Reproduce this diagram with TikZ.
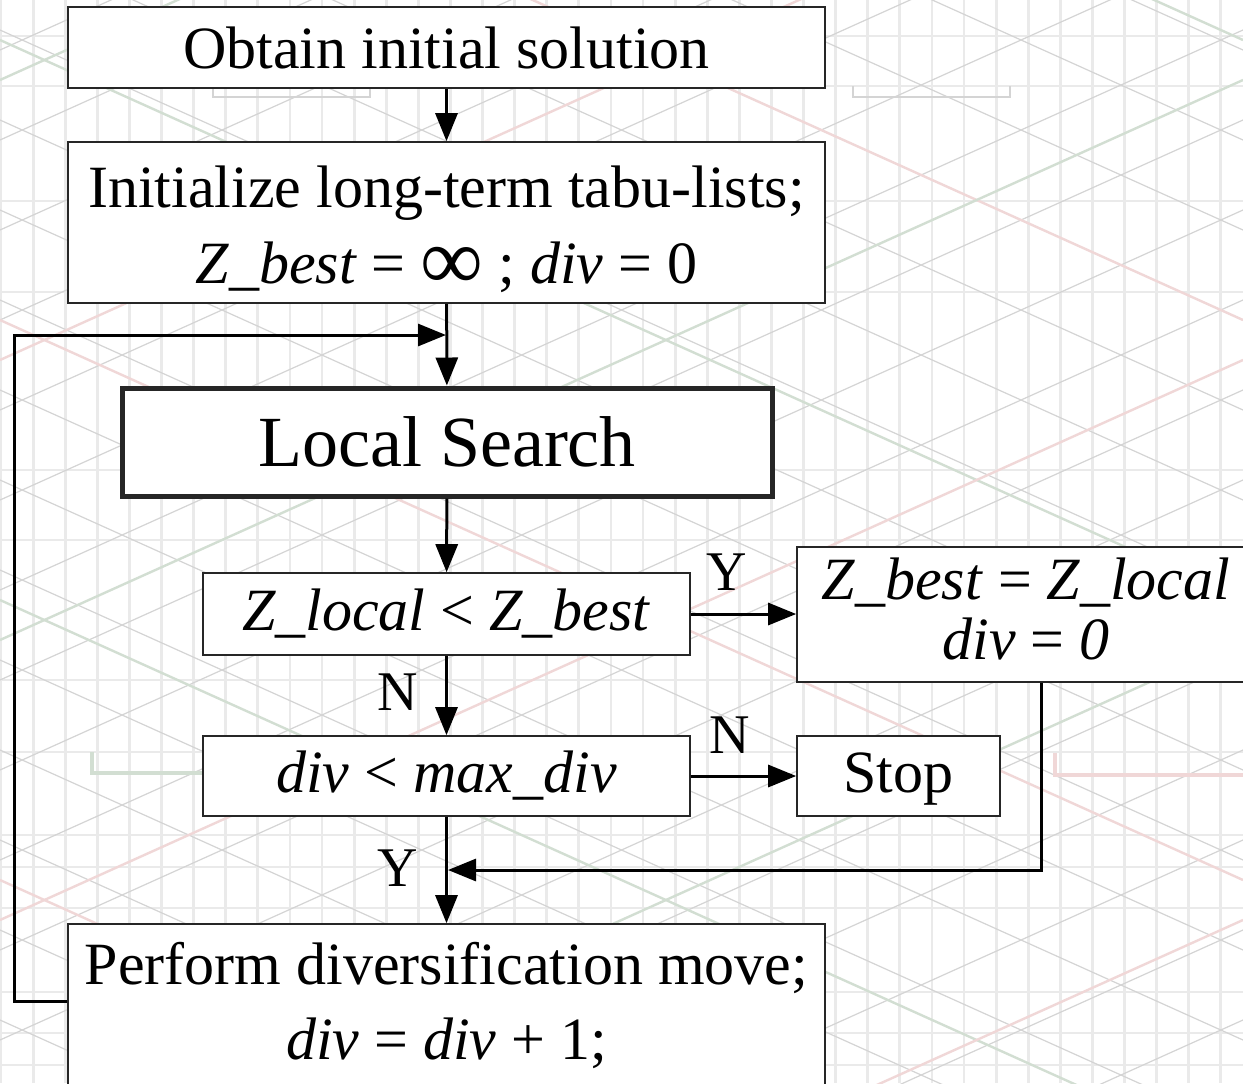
\documentclass[tikz,border=0pt]{standalone}
\usepackage{fontspec}
\setmainfont{Liberation Serif}
\usetikzlibrary{arrows.meta}
\definecolor{bggreen}{RGB}{210,222,210}
\definecolor{bgpink}{RGB}{240,215,215}
\definecolor{bggrid}{RGB}{234,234,234}
\definecolor{bgline}{RGB}{212,212,212}
\tikzset{
  box/.style={draw=black!85, line width=0.4pt, fill=white, inner sep=0pt, align=center,
              font=\fontsize{15}{18.75}\selectfont},
  txt/.style={inner sep=0pt, align=center, font=\fontsize{15}{19}\selectfont},
  flow/.style={line width=0.75pt, -{Triangle[length=7pt,width=5.5pt]}},
  lbl/.style={font=\fontsize{14}{16}\selectfont, inner sep=0pt},
  gridline/.style={bggrid, line width=0.7pt},
  hatch/.style={bgline, line width=0.3pt},
}
\begin{document}
\begin{tikzpicture}[x=0.25pt,y=-0.25pt]
\useasboundingbox (0,0) rectangle (1243,1083);
\clip (0,0) rectangle (1243,1083);
\fill[white] (0,0) rectangle (1243,1083);

% faint background grid
\foreach \i in {0,...,38} \draw[gridline] (1+32.1*\i,0) -- ++(0,1083);
\foreach \y in {36,86,201,292,470,540,680,752,835,867,908,992,1033,1065}
  \draw[gridline] (0,\y) -- (1243,\y);
\foreach \c in {-600,-510,...,1100} {
  \draw[hatch] (0,\c) -- (1243,\c+560);
  \draw[hatch] (0,\c+560) -- (1243,\c);
}
\foreach \c/\col in {-520/bggreen,-240/bgpink,40/bggreen,320/bgpink,600/bggreen,880/bgpink} {
  \draw[\col, line width=0.6pt] (0,\c) -- (1243,\c+560);
  \draw[\col, line width=0.6pt] (0,\c+600) -- (1243,\c+40);
}
\draw[bgline, line width=0.6pt] (213,88) -- (213,97) -- (370,97) -- (370,88);
\draw[bgline, line width=0.6pt] (853,86) -- (853,97) -- (1010,97) -- (1010,86);
\draw[bggreen, line width=1pt] (92,752) -- (92,773) -- (203,773);
\draw[bgpink, line width=1pt] (1055,753) -- (1055,775) -- (1243,775);

% flowchart boxes
\node[box, minimum width=189.25pt, minimum height=20.25pt] (init) at (446.5,47.5)
  {Obtain initial solution};
\node[box, minimum width=189.25pt, minimum height=40.25pt] (lists) at (446.5,222.5) {};
\node[txt] (liststxt) at (446.5,229)
  {Initialize long-term tabu-lists;\\ \textit{Z\_best} = \raisebox{-1.5pt}{\fontsize{22}{19}\selectfont ∞} ; \textit{div} = 0};
\node[box, line width=1.25pt, minimum width=162.5pt, minimum height=27pt,
      font=\fontsize{18}{20}\selectfont] (ls) at (447,442) {Local Search};
\node[box, minimum width=121.75pt, minimum height=20.5pt] (cmp) at (446.5,614)
  {\textit{Z\_local} < \textit{Z\_best}};
\node[box, minimum width=114.5pt, minimum height=33.75pt] (upd) at (1026,614.5) {};
\node[txt, font=\fontsize{15}{15}\selectfont] (updtxt) at (1026,609)
  {\textit{Z\_best} = \textit{Z\_local}\\ \textit{div} = \textit{0}};
\node[box, minimum width=121.75pt, minimum height=20pt] (chk) at (446.5,776)
  {\textit{div} < \textit{max\_div}};
\node[box, minimum width=50.75pt, minimum height=20pt] (stop) at (898.5,776) {};
\node[txt] (stoptxt) at (898.5,779) {Stop};
\node[box, minimum width=189.25pt, minimum height=40.5pt] (div) at (446.5,1005)
  {Perform diversification move;\\ \textit{div} = \textit{div} + 1;};

% helper points for the loop-back connectors
\coordinate (loopy) at (0,1001);
\coordinate (loopx) at (14,0);
\coordinate (entry) at (446,335);
\coordinate (updx) at (1041,0);
\coordinate (merge) at (448,870);

% connectors
\draw[flow] (init) -- (lists);
\draw[flow] (lists) -- (ls);
\draw[flow] (ls) -- (cmp);
\draw[flow] (cmp) -- (chk);
\draw[flow] (chk) -- (div);
\draw[flow] (cmp.east) -- (cmp.east -| upd.west);
\draw[flow] (chk.east) -- (chk.east -| stop.west);
\draw[flow] (div.west |- loopy) -- (loopx |- loopy) |- (entry);
\draw[flow] (upd.south -| updx) |- (merge);

% branch labels
\node[lbl] (ly1) at (727,572) {Y};
\node[lbl] (ln1) at (398,692) {N};
\node[lbl] (ln2) at (730,735) {N};
\node[lbl] (ly2) at (398,868) {Y};
\end{tikzpicture}
\end{document}
